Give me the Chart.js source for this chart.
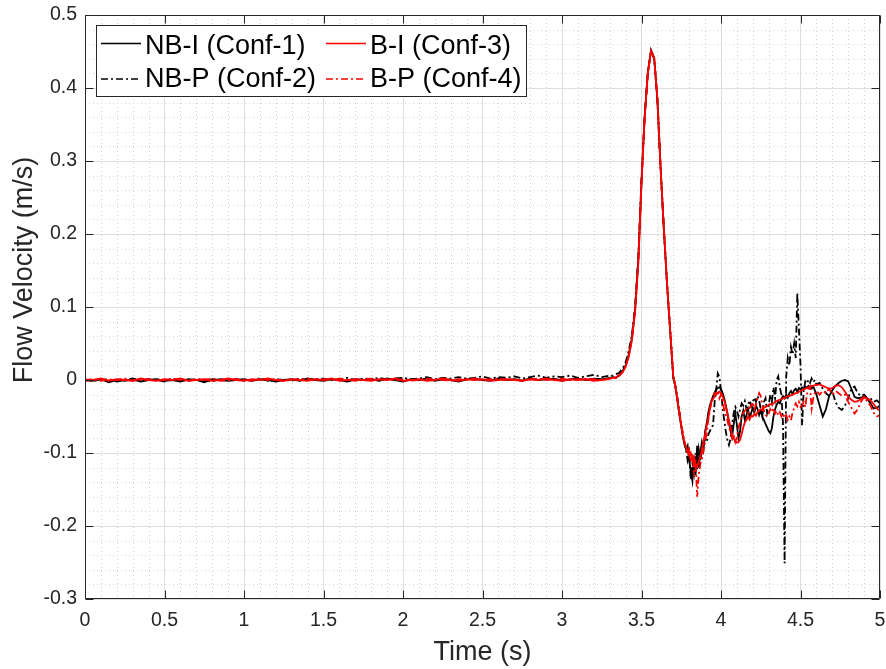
<!DOCTYPE html>
<html><head><meta charset="utf-8">
<script src="https://cdn.jsdelivr.net/npm/chart.js@4.4.0/dist/chart.umd.min.js"></script>
<style>html,body{margin:0;padding:0;background:#fff;}canvas{display:block;}</style>
</head><body>
<canvas id="c" width="886" height="669"></canvas>
<script>
const time = [
0,0.05,0.1,0.15,0.2,0.25,0.3,0.35,0.4,0.45,
0.5,0.55,0.6,0.65,0.7,0.75,0.8,0.85,0.9,0.95,
1,1.05,1.1,1.15,1.2,1.25,1.3,1.35,1.4,1.45,
1.5,1.55,1.6,1.65,1.7,1.75,1.8,1.85,1.9,1.95,
2,2.05,2.1,2.15,2.2,2.25,2.3,2.35,2.4,2.45,
2.5,2.55,2.6,2.65,2.7,2.75,2.8,2.85,2.9,2.95,
3,3.05,3.1,3.15,3.2,3.25,3.3,
3.32,3.34,3.36,3.38,3.4,3.42,3.44,3.46,3.48,3.5,
3.52,3.54,3.56,3.58,3.6,3.62,3.64,3.66,3.68,3.7,
3.71,3.72,3.73,3.74,3.75,3.76,3.77,3.78,3.79,3.8,
3.81,3.82,3.83,3.84,3.85,3.86,3.87,3.88,3.89,3.9,
3.91,3.92,3.93,3.94,3.95,3.96,3.97,3.98,3.99,4,
4.01,4.02,4.03,4.04,4.05,4.06,4.07,4.08,4.09,4.1,
4.11,4.12,4.13,4.14,4.15,4.16,4.17,4.18,4.19,4.2,
4.21,4.22,4.23,4.24,4.25,4.26,4.27,4.28,4.29,4.3,
4.31,4.32,4.33,4.34,4.35,4.36,4.37,4.38,4.39,4.4,
4.41,4.42,4.43,4.44,4.45,4.46,4.47,4.48,4.49,4.5,
4.51,4.52,4.53,4.54,4.55,4.56,4.57,4.58,4.59,4.6,
4.62,4.64,4.66,4.68,4.7,4.72,4.74,4.76,4.78,4.8,
4.82,4.84,4.86,4.88,4.9,4.92,4.94,4.96,4.98,5
];

const nbI = [
0.000,-0.001,0.001,-0.003,0.000,-0.001,0.001,-0.002,0.000,0.001,
-0.001,0.000,-0.002,0.001,0.000,-0.003,0.001,0.000,-0.001,0.000,
0.001,-0.001,0.001,0.000,-0.002,0.000,0.001,-0.001,0.002,0.000,
-0.001,0.001,0.000,-0.002,0.001,0.000,0.001,-0.001,0.002,0.000,
-0.002,0.001,0.000,0.002,-0.001,0.001,0.000,-0.002,0.001,0.002,
0.000,-0.001,0.002,0.000,0.001,-0.001,0.002,0.000,0.001,0.002,
-0.001,0.001,0.002,0.000,0.002,0.001,0.003,
0.004,0.003,0.007,0.012,0.020,0.035,0.058,0.098,0.165,0.272,
0.362,0.422,0.452,0.441,0.383,0.292,0.208,0.133,0.068,0.002,
-0.006,-0.020,-0.035,-0.050,-0.064,-0.078,-0.088,-0.095,-0.090,-0.110,
-0.125,-0.138,-0.105,-0.130,-0.090,-0.120,-0.100,-0.085,-0.095,-0.070,
-0.060,-0.045,-0.035,-0.028,-0.022,-0.017,-0.013,-0.011,-0.010,-0.012,
-0.018,-0.025,-0.035,-0.045,-0.058,-0.070,-0.078,-0.060,-0.045,-0.062,
-0.080,-0.070,-0.050,-0.042,-0.055,-0.048,-0.040,-0.052,-0.045,-0.038,
-0.045,-0.035,-0.040,-0.048,-0.042,-0.050,-0.055,-0.060,-0.065,-0.070,
-0.073,-0.066,-0.050,-0.040,-0.034,-0.030,-0.032,-0.026,-0.022,-0.025,
-0.020,-0.024,-0.018,-0.015,-0.019,-0.014,-0.012,-0.016,-0.011,-0.013,
-0.010,-0.012,-0.009,-0.011,-0.008,-0.010,-0.012,-0.009,-0.014,-0.020,
-0.035,-0.050,-0.040,-0.022,-0.014,-0.008,-0.004,-0.001,0.000,-0.002,
-0.012,-0.023,-0.025,-0.024,-0.023,-0.026,-0.032,-0.039,-0.038,-0.035
];

const nbP = [
0.001,-0.001,0.000,0.001,-0.002,0.000,0.002,-0.001,0.001,0.000,
-0.002,0.001,0.000,-0.001,0.001,0.000,-0.002,0.001,0.000,0.001,
-0.001,0.000,0.002,-0.001,0.001,0.000,-0.001,0.002,0.000,0.001,
0.002,0.000,0.001,0.003,0.000,0.002,0.001,0.003,0.001,0.002,
0.003,0.001,0.002,0.004,0.001,0.003,0.002,0.004,0.002,0.003,
0.005,0.002,0.004,0.003,0.005,0.002,0.004,0.006,0.003,0.005,
0.004,0.006,0.003,0.005,0.007,0.004,0.006,
0.006,0.008,0.010,0.015,0.024,0.040,0.062,0.102,0.170,0.275,
0.362,0.421,0.450,0.440,0.384,0.291,0.209,0.134,0.069,0.004,
-0.004,-0.016,-0.030,-0.045,-0.060,-0.074,-0.086,-0.095,-0.110,-0.100,
-0.137,-0.115,-0.128,-0.100,-0.122,-0.095,-0.110,-0.098,-0.088,-0.080,
-0.085,-0.075,-0.070,-0.065,-0.062,-0.030,-0.012,0.009,0.004,-0.015,
-0.037,-0.055,-0.070,-0.082,-0.089,-0.080,-0.060,-0.045,-0.037,-0.042,
-0.050,-0.040,-0.032,-0.035,-0.029,-0.040,-0.034,-0.028,-0.036,-0.030,
-0.024,-0.030,-0.022,-0.028,-0.040,-0.050,-0.030,-0.025,-0.045,-0.035,
-0.020,-0.030,-0.010,-0.025,0.000,0.005,-0.010,-0.020,-0.060,-0.251,
0.005,0.030,0.020,0.045,0.035,0.050,0.030,0.119,0.070,0.020,
-0.062,-0.015,-0.002,-0.005,0.000,-0.004,0.002,-0.003,0.000,-0.006,
-0.004,-0.012,-0.018,-0.022,-0.015,-0.030,-0.038,-0.041,-0.035,-0.025,
-0.012,-0.009,-0.018,-0.022,-0.020,-0.025,-0.025,-0.030,-0.028,-0.032
];

const bI = [
-0.001,0.000,0.002,-0.001,0.001,0.000,-0.001,0.002,0.000,-0.001,
0.001,0.000,0.002,-0.001,0.000,0.001,-0.001,0.000,0.002,0.000,
-0.001,0.001,0.000,0.002,0.000,-0.001,0.001,0.000,-0.001,0.001,
0.000,0.002,-0.001,0.000,0.001,0.000,-0.001,0.001,0.000,0.002,
-0.001,0.000,0.001,-0.001,0.000,0.002,0.000,-0.001,0.001,0.000,
0.001,-0.001,0.000,0.001,0.000,-0.001,0.001,0.000,0.002,0.000,
-0.001,0.001,0.000,0.001,-0.001,0.000,0.002,
0.003,0.004,0.006,0.010,0.018,0.032,0.055,0.095,0.160,0.270,
0.360,0.420,0.451,0.440,0.385,0.290,0.210,0.135,0.070,0.005,
-0.005,-0.018,-0.033,-0.048,-0.062,-0.075,-0.085,-0.092,-0.098,-0.104,
-0.100,-0.110,-0.105,-0.115,-0.118,-0.112,-0.105,-0.095,-0.085,-0.075,
-0.062,-0.052,-0.040,-0.030,-0.026,-0.022,-0.019,-0.017,-0.016,-0.018,
-0.022,-0.028,-0.036,-0.045,-0.055,-0.065,-0.074,-0.080,-0.084,-0.086,
-0.085,-0.082,-0.074,-0.065,-0.058,-0.055,-0.050,-0.054,-0.049,-0.050,
-0.046,-0.049,-0.044,-0.042,-0.040,-0.041,-0.038,-0.037,-0.036,-0.034,
-0.033,-0.034,-0.032,-0.030,-0.029,-0.028,-0.027,-0.026,-0.025,-0.025,
-0.023,-0.022,-0.022,-0.021,-0.020,-0.019,-0.018,-0.018,-0.016,-0.015,
-0.014,-0.013,-0.012,-0.011,-0.010,-0.009,-0.008,-0.008,-0.007,-0.007,
-0.006,-0.008,-0.010,-0.012,-0.011,-0.008,-0.007,-0.010,-0.016,-0.023,
-0.027,-0.030,-0.029,-0.026,-0.024,-0.025,-0.028,-0.033,-0.039,-0.042
];

const bP = [
0.000,0.001,-0.001,0.001,0.000,0.002,-0.001,0.000,0.001,-0.001,
0.000,0.002,0.000,-0.001,0.001,0.000,0.002,-0.001,0.000,0.001,
0.000,-0.001,0.002,0.000,0.001,-0.001,0.000,0.001,0.002,-0.001,
0.001,0.000,0.002,0.000,-0.001,0.001,0.002,0.000,0.001,0.000,
0.001,-0.001,0.000,0.002,0.001,0.000,-0.001,0.001,0.000,0.002,
0.000,0.001,0.002,0.000,0.001,-0.001,0.001,0.002,0.000,0.001,
0.002,0.000,0.001,0.002,0.001,0.000,0.002,
0.002,0.003,0.006,0.011,0.019,0.033,0.056,0.096,0.162,0.271,
0.360,0.421,0.450,0.441,0.386,0.290,0.211,0.136,0.071,0.006,
-0.004,-0.017,-0.032,-0.047,-0.061,-0.074,-0.084,-0.092,-0.100,-0.095,
-0.112,-0.100,-0.125,-0.108,-0.160,-0.130,-0.115,-0.108,-0.096,-0.085,
-0.073,-0.055,-0.041,-0.030,-0.022,-0.018,-0.020,-0.015,-0.025,-0.020,
-0.030,-0.040,-0.048,-0.055,-0.065,-0.071,-0.080,-0.075,-0.085,-0.078,
-0.065,-0.058,-0.050,-0.045,-0.042,-0.040,-0.045,-0.038,-0.035,-0.030,
-0.040,-0.034,-0.025,-0.018,-0.022,-0.035,-0.042,-0.048,-0.050,-0.046,
-0.040,-0.044,-0.038,-0.046,-0.042,-0.048,-0.044,-0.050,-0.046,-0.052,
-0.048,-0.055,-0.050,-0.055,-0.045,-0.038,-0.032,-0.036,-0.030,-0.037,
-0.035,-0.030,-0.037,-0.020,-0.012,-0.009,-0.039,-0.025,-0.018,-0.015,
-0.020,-0.015,-0.018,-0.012,-0.020,-0.015,-0.018,-0.022,-0.020,-0.030,
-0.038,-0.046,-0.040,-0.030,-0.023,-0.030,-0.035,-0.045,-0.050,-0.048
];

const seriesLabels = ['NB-I (Conf-1)', 'NB-P (Conf-2)', 'B-I (Conf-3)', 'B-P (Conf-4)'];
const xTitle = 'Time (s)';
const yTitle = 'Flow Velocity (m/s)';
const xTicks = [0,0.5,1,1.5,2,2.5,3,3.5,4,4.5,5];
const xTickLabels = ['0','0.5','1','1.5','2','2.5','3','3.5','4','4.5','5'];
const yTicks = [-0.3,-0.2,-0.1,0,0.1,0.2,0.3,0.4,0.5];
const yTickLabels = ['-0.3','-0.2','-0.1','0','0.1','0.2','0.3','0.4','0.5'];

[nbI, nbP, bI, bP].forEach((a, i) => {
  if (a.length !== time.length) throw new Error('length mismatch series ' + i + ': ' + a.length + ' vs ' + time.length);
});

const FONT = '"Liberation Sans", Arial, Helvetica, sans-serif';
const TXT = '#262626';
const DASHDOT = [7, 3, 2, 3];

const toXY = vals => time.map((t, i) => ({x: t, y: vals[i]}));

const styles = {
  'NB-I (Conf-1)': {color: '#000000', dash: []},
  'NB-P (Conf-2)': {color: '#000000', dash: DASHDOT},
  'B-I (Conf-3)': {color: '#ff0000', dash: []},
  'B-P (Conf-4)': {color: '#ff0000', dash: DASHDOT}
};
const valuesByLabel = {
  'NB-I (Conf-1)': nbI, 'NB-P (Conf-2)': nbP, 'B-I (Conf-3)': bI, 'B-P (Conf-4)': bP
};
// Chart.js draws the first dataset on top
const drawOrder = ['B-P (Conf-4)', 'B-I (Conf-3)', 'NB-P (Conf-2)', 'NB-I (Conf-1)'];

const datasets = drawOrder.map(lbl => ({
  label: lbl,
  data: toXY(valuesByLabel[lbl]),
  borderColor: styles[lbl].color,
  borderDash: styles[lbl].dash,
  borderWidth: 1.8,
  pointRadius: 0,
  tension: 0,
  fill: false
}));

const zeroPad = s => { s.paddingTop = 0; s.paddingBottom = 0; s.paddingLeft = 0; s.paddingRight = 0; };

const minorGrid = {
  id: 'minorGrid',
  beforeDatasetsDraw(chart) {
    const {ctx, chartArea: a, scales: {x, y}} = chart;
    ctx.save();
    ctx.strokeStyle = '#d4d4d4';
    ctx.lineWidth = 1;
    ctx.setLineDash([1, 3]);
    ctx.beginPath();
    for (let k = 1; k < 50; k++) {
      if (k % 5 === 0) continue;
      const px = Math.round(x.getPixelForValue(k / 10)) + 0.5;
      ctx.moveTo(px, a.top); ctx.lineTo(px, a.bottom);
    }
    for (let k = -15; k < 25; k++) {
      if (k % 5 === 0) continue;
      const py = Math.round(y.getPixelForValue(k / 50)) + 0.5;
      ctx.moveTo(a.left, py); ctx.lineTo(a.right, py);
    }
    ctx.stroke();
    ctx.restore();
  }
};

const frame = {
  id: 'frame',
  afterDatasetsDraw(chart) {
    const {ctx, chartArea: a, scales: {x, y}} = chart;
    ctx.save();
    ctx.strokeStyle = TXT;
    ctx.lineWidth = 1;
    const L = Math.round(a.left) + 0.5, R = Math.round(a.right) - 0.5;
    const T = Math.round(a.top) + 0.5, B = Math.round(a.bottom) - 0.5;
    const tl = 8;
    ctx.beginPath();
    ctx.rect(L, T, R - L, B - T);
    xTicks.forEach(v => {
      const px = Math.round(x.getPixelForValue(v)) + 0.5;
      ctx.moveTo(px, B); ctx.lineTo(px, B - tl);
      ctx.moveTo(px, T); ctx.lineTo(px, T + tl);
    });
    yTicks.forEach(v => {
      const py = Math.round(y.getPixelForValue(v)) + 0.5;
      ctx.moveTo(L, py); ctx.lineTo(L + tl, py);
      ctx.moveTo(R, py); ctx.lineTo(R - tl, py);
    });
    ctx.stroke();
    ctx.restore();
  }
};

const titles = {
  id: 'titles',
  afterDraw(chart) {
    const {ctx, chartArea: a} = chart;
    ctx.save();
    ctx.fillStyle = TXT;
    ctx.font = '27px ' + FONT;
    ctx.textAlign = 'center';
    ctx.textBaseline = 'alphabetic';
    ctx.fillText(xTitle, (a.left + a.right) / 2, a.bottom + 61);
    ctx.translate(32, a.top + 255);
    ctx.rotate(-Math.PI / 2);
    ctx.fillText(yTitle, 0, 0);
    ctx.restore();
  }
};

const boxLegend = {
  id: 'boxLegend',
  afterDraw(chart) {
    const {ctx, chartArea: a} = chart;
    const left = Math.round(a.left) + 11, top = Math.round(a.top) + 10;
    const w = 431, h = 72;
    ctx.save();
    ctx.fillStyle = '#ffffff';
    ctx.fillRect(left, top, w, h);
    ctx.strokeStyle = TXT;
    ctx.lineWidth = 1;
    ctx.strokeRect(left + 0.5, top + 0.5, w - 1, h - 1);
    const layout = [
      ['NB-I (Conf-1)', 0, 0], ['B-I (Conf-3)', 1, 0],
      ['NB-P (Conf-2)', 0, 1], ['B-P (Conf-4)', 1, 1]
    ];
    const colX = [5, 230];
    const lineY = [18.5, 54];
    const baseY = [29, 62];
    ctx.font = '27px ' + FONT;
    ctx.textBaseline = 'alphabetic';
    layout.forEach(([lbl, c, r]) => {
      const ds = chart.data.datasets.find(d => d.label === lbl);
      const x0 = left + colX[c];
      ctx.strokeStyle = ds.borderColor;
      ctx.lineWidth = 1.6;
      ctx.setLineDash(ds.borderDash || []);
      ctx.beginPath();
      ctx.moveTo(x0, top + lineY[r]);
      ctx.lineTo(x0 + 40, top + lineY[r]);
      ctx.stroke();
      ctx.setLineDash([]);
      ctx.fillStyle = '#000000';
      ctx.fillText(lbl, x0 + 44, top + baseY[r]);
    });
    ctx.restore();
  }
};

new Chart(document.getElementById('c'), {
  type: 'line',
  data: {datasets},
  options: {
    responsive: false,
    animation: false,
    layout: {padding: {left: 0, right: 6, top: 15, bottom: 0}},
    plugins: {legend: {display: false}, tooltip: {enabled: false}},
    scales: {
      x: {
        type: 'linear', min: 0, max: 5,
        afterBuildTicks: s => { s.ticks = xTicks.map(v => ({value: v})); },
        afterFit: s => { s.height = 70; zeroPad(s); },
        ticks: {
          autoSkip: false, maxRotation: 0, padding: 10,
          color: TXT, font: {family: FONT, size: 19.5},
          callback: v => xTickLabels[xTicks.indexOf(v)]
        },
        grid: {color: '#dedede', lineWidth: 1, drawTicks: false},
        border: {display: false},
        title: {display: false}
      },
      y: {
        type: 'linear', min: -0.3, max: 0.5,
        afterBuildTicks: s => { s.ticks = yTicks.map(v => ({value: v})); },
        afterFit: s => { s.width = 85; zeroPad(s); },
        ticks: {
          autoSkip: false, padding: 8,
          color: TXT, font: {family: FONT, size: 19.5},
          callback: v => yTickLabels[yTicks.findIndex(t => Math.abs(t - v) < 1e-9)]
        },
        grid: {color: '#dedede', lineWidth: 1, drawTicks: false},
        border: {display: false},
        title: {display: false}
      }
    }
  },
  plugins: [minorGrid, frame, boxLegend, titles]
});
</script>
</body></html>
